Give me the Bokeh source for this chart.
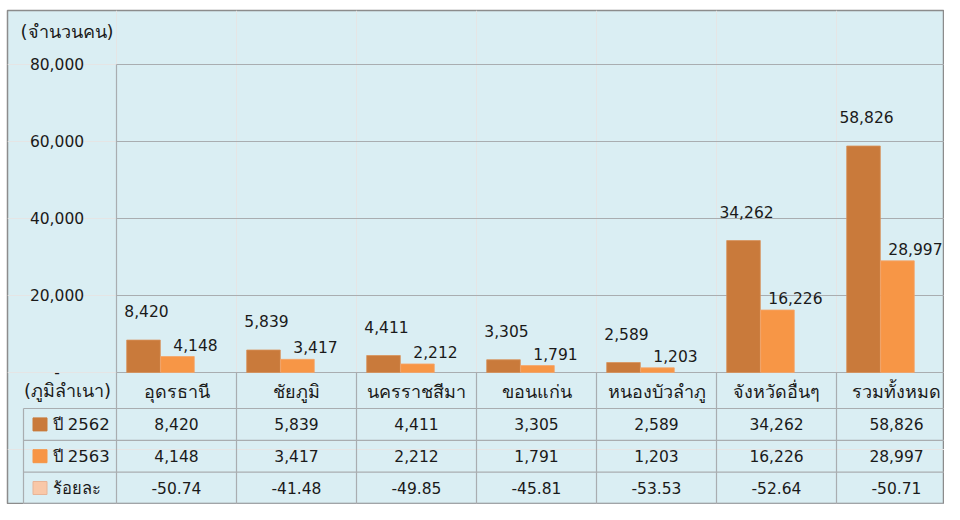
import numpy as np
from bokeh.plotting import figure
from bokeh.models import Range1d, ColumnDataSource
from bokeh.core.properties import value
from bokeh.transform import dodge
from bokeh.embed import file_html
from bokeh.resources import INLINE

# ---------------- data ----------------
categories = ["อุดรธานี", "ชัยภูมิ", "นครราชสีมา", "ขอนแก่น", "หนองบัวลำภู", "จังหวัดอื่นๆ", "รวมทั้งหมด"]
y2562 = [8420, 5839, 4411, 3305, 2589, 34262, 58826]
y2563 = [4148, 3417, 2212, 1791, 1203, 16226, 28997]
pct = [-50.74, -41.48, -49.85, -45.81, -53.53, -52.64, -50.71]
series_names = ["ปี 2562", "ปี 2563", "ร้อยละ"]
y_ticks = [0, 20000, 40000, 60000, 80000]
y_tick_labels = ["-", "20,000", "40,000", "60,000", "80,000"]
y_title = "(จำนวนคน)"
x_title = "(ภูมิลำเนา)"

# ---------------- style ----------------
BG = "#DAEEF3"
DARK = "#C97A3B"
LIGHT = "#F79646"
PALE = "#F9C8A8"
GRID = "#A9ADB0"
TXT = "#1A1A1A"
FONT = value("DejaVu Sans")
FS = "15.5px"      # numbers
FS_TH = "18px"     # thai headers
FS_ROW = "16.5px"  # row labels

W, H = 944, 504
# layout (pixels on the canvas)
LEFT, TOP = 7, 10
COL0, COLW = 116, 120           # first category column and its width
Y0_PX, YMAX_PX = 372, 64        # pixel rows of 0 and 80,000
HDR_BOTTOM, ROW_H = 408, 31.8   # data table

ppx = (y_ticks[-1] - y_ticks[0]) / (Y0_PX - YMAX_PX)
p = figure(width=W, height=H, output_backend="svg", toolbar_location=None,
           x_axis_location=None, y_axis_location=None,
           x_range=Range1d((LEFT - COL0) / COLW, (W - COL0) / COLW),
           y_range=Range1d(-(H - Y0_PX) * ppx, (Y0_PX - TOP) * ppx),
           min_border_left=LEFT, min_border_right=0, min_border_bottom=0, min_border_top=TOP,
           background_fill_color=BG, border_fill_color="white",
           outline_line_color="#8C8C8C", outline_line_width=1.5)
p.extra_y_ranges = {"tbl": Range1d(start=(H - HDR_BOTTOM) / ROW_H, end=(TOP - HDR_BOTTOM) / ROW_H)}

n = len(categories)
idx = np.arange(n)
src = ColumnDataSource(dict(
    x=idx + 0.5, cat=categories, a=y2562, b=y2563,
    a_lbl=[f"{v:,}" for v in y2562], b_lbl=[f"{v:,}" for v in y2563],
    p_lbl=[f"{v:.2f}" for v in pct],
))

# gridlines + axis line
p.segment(x0=0, x1=n, y0=y_ticks[1:], y1=y_ticks[1:], line_color=GRID, line_width=1.2)
p.segment(x0=[0], x1=[0], y0=[0], y1=[y_ticks[-1]], line_color=GRID, line_width=1.2)
p.segment(x0=[0], x1=[n], y0=[0], y1=[0], line_color=GRID, line_width=1.2)

# y tick labels
p.text(x=[(56.5 - COL0) / COLW] * len(y_ticks), y=y_ticks, text=y_tick_labels, text_align="center",
       text_baseline="middle", text_font=FONT, text_font_size=FS, text_color=TXT, y_offset=-1)
p.text(x=[(20 - COL0) / COLW], y=[y_ticks[-1]], text=[y_title], text_align="left",
       text_baseline="middle", text_font=FONT, text_font_size=FS_TH, text_color=TXT, y_offset=-33)

# bars
p.vbar(x=dodge("x", -0.275, range=p.x_range), top="a", width=0.28, source=src,
       fill_color=DARK, line_color="#D8925A", line_width=0.8)
p.vbar(x=dodge("x", 0.008, range=p.x_range), top="b", width=0.28, source=src,
       fill_color=LIGHT, line_color="#F5A568", line_width=0.8)

# value labels
p.text(x=dodge("x", -0.275, range=p.x_range), y="a", text="a_lbl", source=src,
       text_align="center", text_baseline="middle", x_offset=3, y_offset=-29,
       text_font=FONT, text_font_size=FS, text_color=TXT)
p.text(x=dodge("x", 0.008, range=p.x_range), y="b", text="b_lbl", source=src,
       text_align="center", text_baseline="middle", x_offset=18, y_offset=-12,
       text_font=FONT, text_font_size=FS, text_color=TXT)

# ---------------- data table ----------------
hdr_top = (Y0_PX - HDR_BOTTOM) / ROW_H
rows = [0, 1, 2, 3]
tbl_left = (23 - COL0) / COLW
p.segment(x0=tbl_left, x1=n, y0=rows, y1=rows, line_color=GRID, line_width=1.2, y_range_name="tbl")
p.segment(x0=list(range(n + 1)), x1=list(range(n + 1)), y0=hdr_top, y1=3,
          line_color=GRID, line_width=1.2, y_range_name="tbl")
p.segment(x0=[tbl_left], x1=[tbl_left], y0=[0], y1=[3], line_color=GRID, line_width=1.2,
          y_range_name="tbl")

# header texts
p.text(x="x", y=hdr_top / 2, text="cat", source=src, y_range_name="tbl",
       text_align="center", text_baseline="middle", text_font=FONT, text_font_size=FS_TH,
       text_color=TXT, y_offset=1)
p.text(x=[(67 - COL0) / COLW], y=[hdr_top / 2], text=[x_title], y_range_name="tbl",
       text_align="center", text_baseline="middle", text_font=FONT, text_font_size=FS_TH,
       text_color=TXT, y_offset=0)

# row values
for r, col in enumerate(["a_lbl", "b_lbl", "p_lbl"]):
    p.text(x="x", y=r + 0.5, text=col, source=src, y_range_name="tbl",
           text_align="center", text_baseline="middle", text_font=FONT, text_font_size=FS,
           text_color=TXT)

# legend keys + row names
key_y = [0.5, 1.5, 2.5]
p.rect(x=[(39.5 - COL0) / COLW] * 3, y=key_y, width=14, height=13, width_units="screen",
       height_units="screen", fill_color=[DARK, LIGHT, PALE],
       line_color=[DARK, LIGHT, "#E8B496"], line_width=1, y_range_name="tbl")
p.text(x=[(52 - COL0) / COLW] * 3, y=key_y, text=series_names, y_range_name="tbl",
       text_align="left", text_baseline="middle", text_font=FONT, text_font_size=FS_ROW,
       text_color=TXT)

open("out.html", "w").write(file_html(p, INLINE))
